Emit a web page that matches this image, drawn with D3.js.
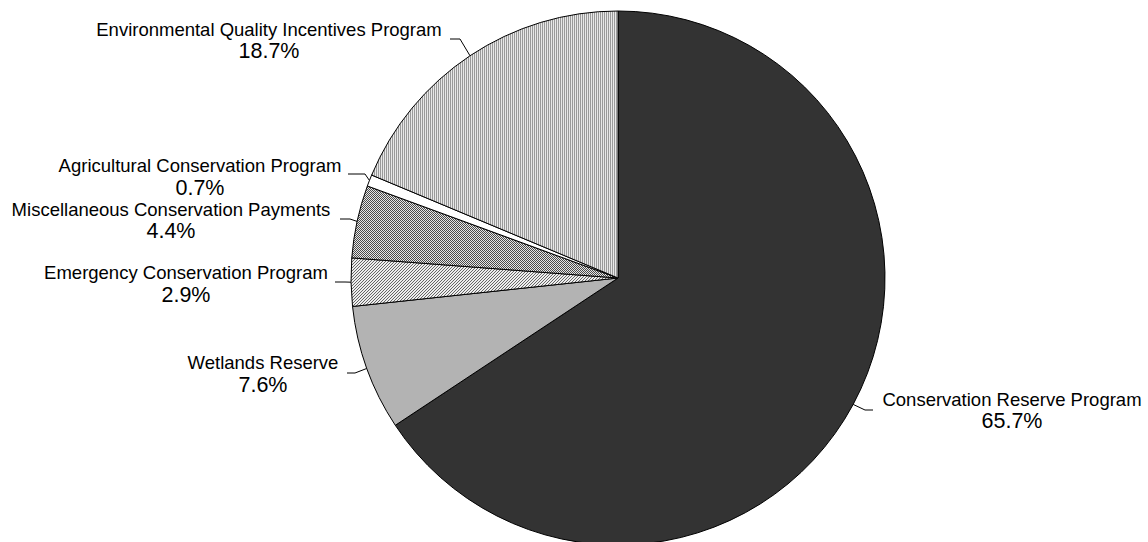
<!DOCTYPE html>
<html><head><meta charset="utf-8">
<script src="https://cdn.jsdelivr.net/npm/d3@7"></script>
<style>body{margin:0;background:#fff}svg{display:block}text{font-family:"Liberation Sans",Arial,sans-serif;fill:#000}</style>
</head><body>
<svg id="c" width="1148" height="542"></svg>
<script>
const categories = ["Conservation Reserve Program","Wetlands Reserve","Emergency Conservation Program","Miscellaneous Conservation Payments","Agricultural Conservation Program","Environmental Quality Incentives Program"];
const values = [65.7, 7.6, 2.9, 4.4, 0.7, 18.7];
const valueLabels = ["65.7%","7.6%","2.9%","4.4%","0.7%","18.7%"];

// layout (positions only)
const fills = ["#333333","#b3b3b3","url(#pDiag)","url(#pCheck)","#ffffff","url(#pVert)"];
const labelLayout = [
  {cx:1012, b1:406, b2:428, elbow:[865,410], end:[873,410]},
  {cx:263, b1:369, b2:392, elbow:[355,373], end:[347,373]},
  {cx:186, b1:279, b2:302, elbow:[345,282], end:[335,282]},
  {cx:171, b1:216, b2:238, elbow:[350,219], end:[340,219]},
  {cx:200, b1:172, b2:195, elbow:[365,174], end:[348,174]},
  {cx:269, b1:36, b2:58, elbow:[460,39], end:[450,39]}
];
const CX = 618, CY = 278, R = 267;

const svg = d3.select("#c");
const defs = svg.append("defs");
const pv = defs.append("pattern").attr("id","pVert").attr("patternUnits","userSpaceOnUse").attr("width",2).attr("height",2);
pv.append("rect").attr("width",2).attr("height",2).attr("fill","#e8e8e8");
pv.append("rect").attr("width",1).attr("height",2).attr("fill","#9a9a9a");
const pc = defs.append("pattern").attr("id","pCheck").attr("patternUnits","userSpaceOnUse").attr("width",2).attr("height",2);
pc.append("rect").attr("width",2).attr("height",2).attr("fill","#e6e6e6");
pc.append("rect").attr("width",1).attr("height",1).attr("fill","#4a4a4a");
pc.append("rect").attr("x",1).attr("y",1).attr("width",1).attr("height",1).attr("fill","#4a4a4a");
const pd = defs.append("pattern").attr("id","pDiag").attr("patternUnits","userSpaceOnUse").attr("width",3).attr("height",3);
pd.append("rect").attr("width",3).attr("height",3).attr("fill","#eeeeee");
[[2,0],[1,1],[0,2]].forEach(([x,y])=>pd.append("rect").attr("x",x).attr("y",y).attr("width",1).attr("height",1).attr("fill","#666666"));

const data = categories.map((c,i)=>({name:c, value:values[i], label:valueLabels[i], i}));
const pie = d3.pie().sort(null).value(d=>d.value);
const arcs = pie(data);
const arc = d3.arc().innerRadius(0).outerRadius(R);
const edge = d3.arc().innerRadius(R).outerRadius(R);

const g = svg.append("g").attr("transform",`translate(${CX},${CY})`);
g.selectAll("path.s").data(arcs).join("path").attr("class","s")
  .attr("d",arc).attr("fill",d=>fills[d.data.i]).attr("stroke","#000").attr("stroke-width",1).attr("stroke-linejoin","round");

arcs.forEach(a=>{
  const L = labelLayout[a.data.i];
  const p = edge.centroid(a);
  const pts = [[p[0]+CX,p[1]+CY], L.elbow, L.end];
  svg.append("path").attr("d",d3.line()(pts)).attr("fill","none").attr("stroke","#000").attr("stroke-width",1);
  svg.append("text").attr("x",L.cx).attr("y",L.b1).attr("text-anchor","middle").attr("font-size",18.5).text(a.data.name);
  svg.append("text").attr("x",L.cx).attr("y",L.b2).attr("text-anchor","middle").attr("font-size",21.5).text(a.data.label);
});
</script>
</body></html>
